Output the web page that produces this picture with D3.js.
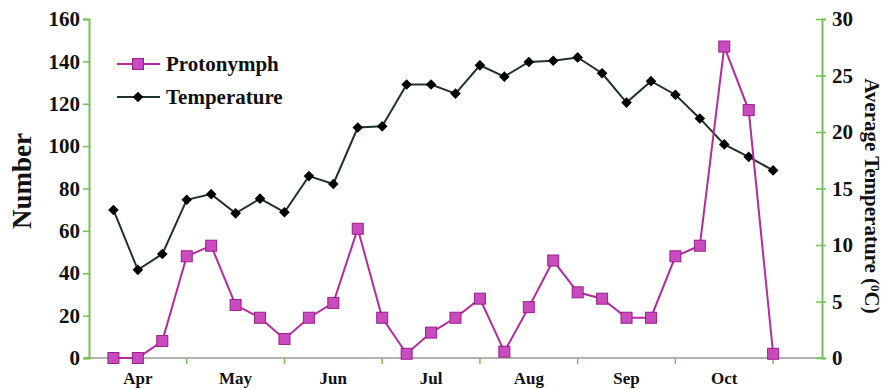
<!DOCTYPE html>
<html>
<head>
<meta charset="utf-8">
<script src="https://cdn.jsdelivr.net/npm/d3@7"></script>
<style>
  html, body { margin: 0; padding: 0; background: #fff; }
  svg { display: block; }
  text { font-family: "Liberation Serif", "Times New Roman", serif; }
</style>
</head>
<body>
<svg id="chart" width="887" height="389"></svg>
<script>
// ---- data ----
const months = ["Apr", "May", "Jun", "Jul", "Aug", "Sep", "Oct"];
const weeksPerMonth = 4;
const protonymph = [0, 0, 8, 48, 53, 25, 19, 9, 19, 26, 61, 19, 2, 12, 19, 28,
                    3, 24, 46, 31, 28, 19, 19, 48, 53, 147, 117, 2];
const temperature = [13.1, 7.8, 9.2, 14.0, 14.5, 12.8, 14.1, 12.9, 16.1, 15.4, 20.4, 20.5,
                     24.2, 24.2, 23.4, 25.9, 24.9, 26.2, 26.3, 26.6, 25.2, 22.6, 24.5, 23.3,
                     21.2, 18.9, 17.8, 16.6];
const leftTicks = [0, 20, 40, 60, 80, 100, 120, 140, 160];
const rightTicks = [0, 5, 10, 15, 20, 25, 30];
const seriesNames = ["Protonymph", "Temperature"];

// ---- layout ----
const svg = d3.select("#chart");
const L = 89, R = 822, T = 19, B = 358;
const green = "#72c255";
const magentaLine = "#b52a9f", magentaFill = "#c94bbd", magentaStroke = "#9a1f8a";
const tempLine = "#1d3526";

const x = d3.scaleLinear().domain([0, months.length * weeksPerMonth + 2]).range([L, R]);
const yL = d3.scaleLinear().domain([0, 160]).range([B, T]);
const yR = d3.scaleLinear().domain([0, 30]).range([B, T]);

// x axis line (gray)
svg.append("line").attr("x1", L - 5).attr("x2", R).attr("y1", B).attr("y2", B)
  .attr("stroke", "#9a9a9a").attr("stroke-width", 1.5);

// x ticks at month boundaries
const boundaries = d3.range(1, months.length + 1).map(i => i * weeksPerMonth);
svg.append("g").selectAll("line").data(boundaries).join("line")
  .attr("x1", d => x(d)).attr("x2", d => x(d))
  .attr("y1", B).attr("y2", B + 6)
  .attr("stroke", green).attr("stroke-width", 1.5);

// month labels
svg.append("g").selectAll("text").data(months).join("text")
  .attr("x", (d, i) => x(i * weeksPerMonth + weeksPerMonth / 2))
  .attr("y", 384)
  .attr("text-anchor", "middle")
  .attr("font-size", 17).attr("font-weight", "bold").attr("fill", "#111")
  .text(d => d);

// left axis
const gL = svg.append("g").attr("transform", `translate(${L},0)`)
  .call(d3.axisLeft(yL).tickValues(leftTicks).tickSize(6).tickPadding(3));
gL.select(".domain").attr("stroke", green).attr("stroke-width", 2);
gL.selectAll(".tick line").attr("stroke", green).attr("stroke-width", 1.5);
gL.selectAll(".tick text").attr("font-size", 21).attr("font-weight", "bold")
  .attr("fill", "#111").attr("font-family", "Liberation Serif, Times New Roman, serif");

// right axis
const gR = svg.append("g").attr("transform", `translate(${R},0)`)
  .call(d3.axisRight(yR).tickValues(rightTicks).tickSize(4).tickPadding(6));
gR.select(".domain").attr("stroke", green).attr("stroke-width", 2);
gR.selectAll(".tick line").attr("stroke", green).attr("stroke-width", 1.5).attr("x1", -6);
gR.selectAll(".tick text").attr("font-size", 21).attr("font-weight", "bold")
  .attr("fill", "#111").attr("font-family", "Liberation Serif, Times New Roman, serif");

// axis titles
svg.append("text")
  .attr("transform", "translate(31,181) rotate(-90)")
  .attr("text-anchor", "middle")
  .attr("font-size", 27).attr("font-weight", "bold").attr("fill", "#111")
  .text("Number");

const rt = svg.append("text")
  .attr("transform", "translate(865,196) rotate(90)")
  .attr("text-anchor", "middle")
  .attr("font-size", 21).attr("font-weight", "bold").attr("fill", "#111");
rt.append("tspan").text("Average Temperature (");
rt.append("tspan").attr("font-size", 13).attr("dy", -6).text("0");
rt.append("tspan").attr("dy", 6).text("C)");

// temperature series
const idx = d => d + 1;
const tempLineGen = d3.line().x((d, i) => x(idx(i))).y(d => yR(d));
svg.append("path").datum(temperature).attr("d", tempLineGen)
  .attr("fill", "none").attr("stroke", tempLine).attr("stroke-width", 2);
const diamond = d3.symbol().type(d3.symbolDiamond2).size(72);
svg.append("g").selectAll("path").data(temperature).join("path")
  .attr("d", diamond)
  .attr("transform", (d, i) => `translate(${x(idx(i))},${yR(d)})`)
  .attr("fill", "#000");

// protonymph series
const protoLineGen = d3.line().x((d, i) => x(idx(i))).y(d => yL(d));
svg.append("path").datum(protonymph).attr("d", protoLineGen)
  .attr("fill", "none").attr("stroke", magentaLine).attr("stroke-width", 2);
svg.append("g").selectAll("rect").data(protonymph).join("rect")
  .attr("x", (d, i) => x(idx(i)) - 5.5).attr("y", d => yL(d) - 5.5)
  .attr("width", 11).attr("height", 11)
  .attr("fill", magentaFill).attr("stroke", magentaStroke).attr("stroke-width", 1);

// legend
const lg = svg.append("g");
const legendRows = [
  { name: seriesNames[0], y: 64, color: magentaLine },
  { name: seriesNames[1], y: 97, color: tempLine }
];
legendRows.forEach((r, i) => {
  lg.append("line").attr("x1", 117).attr("x2", 160).attr("y1", r.y).attr("y2", r.y)
    .attr("stroke", r.color).attr("stroke-width", 2);
  if (i === 0) {
    lg.append("rect").attr("x", 138 - 5.5).attr("y", r.y - 5.5).attr("width", 11).attr("height", 11)
      .attr("fill", magentaFill).attr("stroke", magentaStroke);
  } else {
    lg.append("path").attr("d", diamond).attr("transform", `translate(138,${r.y})`).attr("fill", "#000");
  }
  lg.append("text").attr("x", 166).attr("y", r.y + 7)
    .attr("font-size", 21).attr("font-weight", "bold").attr("fill", "#111")
    .text(r.name);
});
</script>
</body>
</html>
